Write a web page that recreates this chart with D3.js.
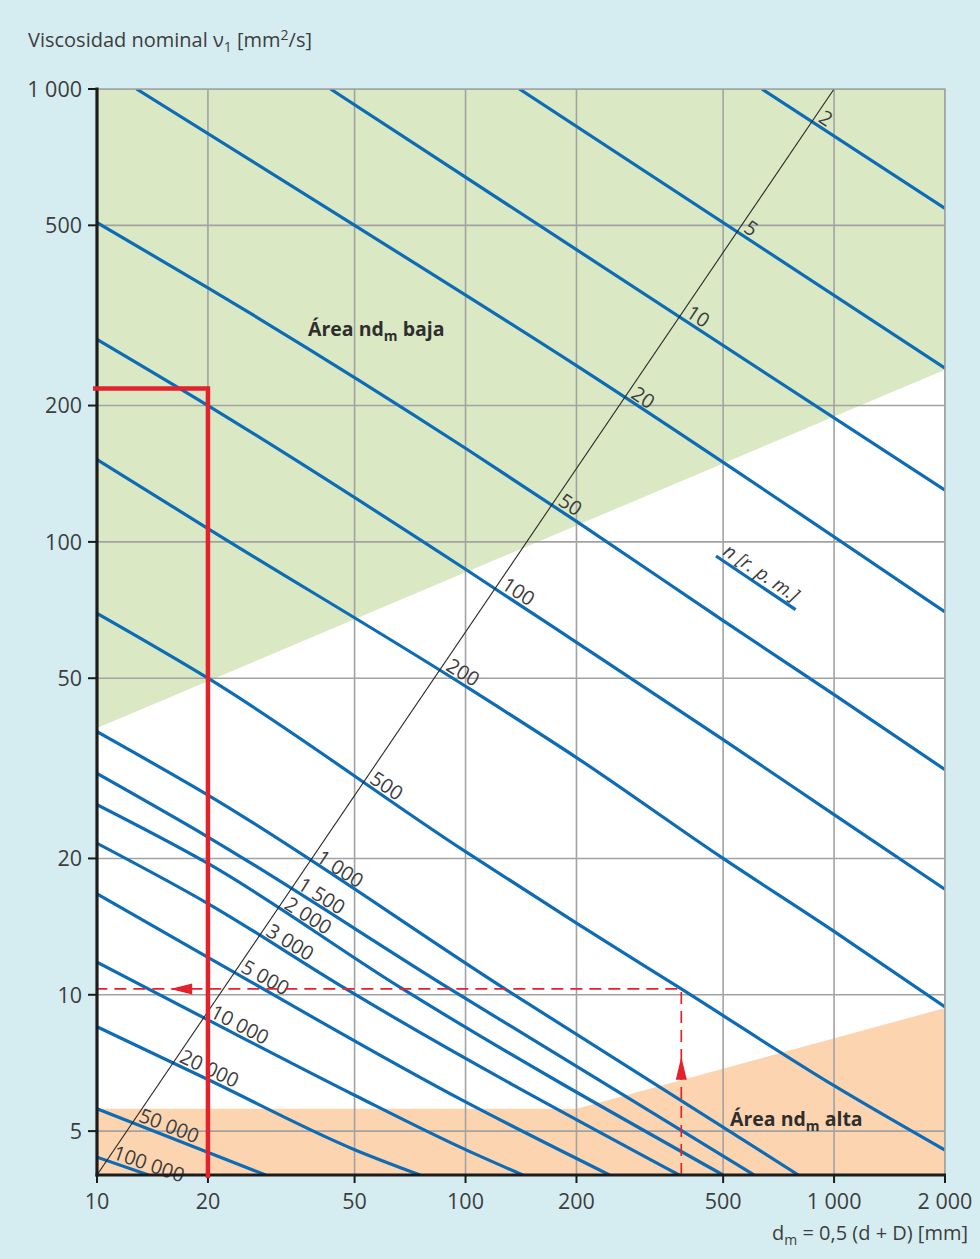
<!DOCTYPE html>
<html>
<head>
<meta charset="utf-8">
<script src="https://cdn.jsdelivr.net/npm/d3@7"></script>
<style>
  html, body { margin: 0; padding: 0; background: #d5edf1; }
  svg { display: block; }
  text { font-family: "Open Sans", "Noto Sans", sans-serif; }
</style>
</head>
<body>
<svg id="chart" width="980" height="1259"></svg>
<script>
// Axis ticks
const xTicks = [10, 20, 50, 100, 200, 500, 1000, 2000];
const yTicks = [5, 10, 20, 50, 100, 200, 500, 1000];

// Rotational speeds n [r.p.m.] of the curves, labelled along the diagonal
const speeds = [2, 5, 10, 20, 50, 100, 200, 500, 1000, 1500, 2000, 3000, 5000, 10000, 20000, 50000, 100000];

// Each curve as [dm (mm), nominal viscosity (mm²/s)] pairs, in the same order as speeds
const speedCurves = [
  [[637, 1000], [2000, 545]],
  [[140, 1000], [2000, 242]],
  [[43, 1000], [2000, 130]],
  [[12.8, 1000], [50, 500], [200, 245], [2000, 70]],
  [[10, 507], [20, 364], [100, 161], [200, 111], [500, 67], [1000, 46], [2000, 31.4]],
  [[10, 280], [20, 200], [100, 87], [200, 60], [500, 36.6], [1000, 25], [2000, 17.1]],
  [[10, 152], [20, 107], [100, 48], [200, 33.4], [500, 20], [1000, 13.8], [2000, 9.4]],
  [[10, 69.5], [20, 50], [100, 20.7], [200, 14.4], [385, 10.3], [1000, 6.3], [2000, 4.54]],
  [[10, 38.1], [20, 27.6], [127, 10.34], [800, 4]],
  [[10, 30.8], [20, 22.3], [90, 10.34], [607, 4]],
  [[10, 26.3], [20, 19.5], [67, 10.34], [500, 4]],
  [[10, 21.6], [20, 15.9], [47, 10.34], [380, 4]],
  [[10, 16.7], [20, 12.1], [100, 5.8], [246, 4]],
  [[10, 11.8], [20, 8.8], [50, 6.0], [100, 4.55], [143, 4]],
  [[10, 8.5], [20, 6.5], [50, 4.55], [75.3, 4]],
  [[10, 5.6], [28.7, 4]],
  [[10, 4.38], [13.8, 4]]
];

// Zone boundaries
const lowZoneEdge = [[10, 38.8], [2000, 240]];            // above: low nd_m
const highZoneEdge = [[10, 5.6], [200, 5.6], [2000, 9.35]]; // below: high nd_m
const speedScale = [[10, 4], [1000, 1000]];                // diagonal carrying the speed labels

// Worked examples
const exampleSolid = { dm: 20, nu: 218 };
const exampleDashed = { dm: 385, nu: 10.3 };
const arrowLeftAt = { dm: 15.8, nu: 10.3 };
const arrowUpAt = { dm: 385, nu: 7.3 };

const fmt = d3.formatLocale({ decimal: ",", thousands: " ", grouping: [3], currency: ["", " €"] }).format(",");

const svg = d3.select("#chart");
const x = d3.scaleLog().domain([10, 2000]).range([97, 945]);
const y = d3.scaleLog().domain([4, 1000]).range([1175, 89]);

const X0 = x(10), X1 = x(2000), Y0 = y(4), Y1 = y(1000);

const colors = {
  blue: "#0d6cb5", green: "#dae9c3", orange: "#fcd5b0", grid: "#a2a2a2",
  axis: "#1c1c1c", text: "#3d3d3d", red: "#e3222b"
};

svg.append("defs").append("clipPath").attr("id", "plotClip")
  .append("rect").attr("x", X0).attr("y", Y1).attr("width", X1 - X0).attr("height", Y0 - Y1);

const plot = svg.append("g").attr("clip-path", "url(#plotClip)");

// plot background
plot.append("rect").attr("x", X0).attr("y", Y1).attr("width", X1 - X0).attr("height", Y0 - Y1).attr("fill", "#ffffff");

const poly = pts => pts.map(p => [x(p[0]), y(p[1])].join(",")).join(" ");

// low nd_m zone (top)
plot.append("polygon")
  .attr("points", poly([[10, 1000], [2000, 1000], lowZoneEdge[1], lowZoneEdge[0]]))
  .attr("fill", colors.green);

// high nd_m zone (bottom)
plot.append("polygon")
  .attr("points", poly([...highZoneEdge, [2000, 4], [10, 4]]))
  .attr("fill", colors.orange);

// grid
plot.selectAll("line.vgrid").data(xTicks.slice(1)).enter().append("line")
  .attr("x1", d => x(d)).attr("x2", d => x(d)).attr("y1", Y1).attr("y2", Y0)
  .attr("stroke", colors.grid).attr("stroke-width", 1.6);
plot.selectAll("line.hgrid").data(yTicks).enter().append("line")
  .attr("x1", X0).attr("x2", X1).attr("y1", d => y(d)).attr("y2", d => y(d))
  .attr("stroke", colors.grid).attr("stroke-width", 1.6);
// frame on the top and right
svg.append("path")
  .attr("d", `M${X0},${Y1}H${X1}V${Y0}`)
  .attr("fill", "none").attr("stroke", colors.grid).attr("stroke-width", 1.6);

// speed curves
const curve = d3.line().x(d => x(d[0])).y(d => y(d[1])).curve(d3.curveMonotoneX);
plot.selectAll("path.speed").data(speedCurves).enter().append("path")
  .attr("d", curve).attr("fill", "none")
  .attr("stroke", colors.blue).attr("stroke-width", 3.2).attr("stroke-linecap", "butt");

// diagonal speed scale
plot.append("line")
  .attr("x1", x(speedScale[0][0])).attr("y1", y(speedScale[0][1]))
  .attr("x2", x(speedScale[1][0])).attr("y2", y(speedScale[1][1]))
  .attr("stroke", "#2a2a2a").attr("stroke-width", 1.1);

// where a curve meets the diagonal (pixel space), with the local direction of the curve
function crossing(pts) {
  const a = [x(speedScale[0][0]), y(speedScale[0][1])];
  const b = [x(speedScale[1][0]), y(speedScale[1][1])];
  const s = [b[0] - a[0], b[1] - a[1]];
  for (let i = 0; i < pts.length - 1; i++) {
    const p = [x(pts[i][0]), y(pts[i][1])];
    const q = [x(pts[i + 1][0]), y(pts[i + 1][1])];
    const r = [q[0] - p[0], q[1] - p[1]];
    const den = r[0] * s[1] - r[1] * s[0];
    if (Math.abs(den) < 1e-9) continue;
    const ap = [a[0] - p[0], a[1] - p[1]];
    const t = (ap[0] * s[1] - ap[1] * s[0]) / den;
    const u = (ap[0] * r[1] - ap[1] * r[0]) / den;
    if (t >= 0 && t <= 1 && u >= -0.02 && u <= 1) {
      return { x: p[0] + t * r[0], y: p[1] + t * r[1], angle: Math.atan2(r[1], r[0]) };
    }
  }
  return null;
}

const labelLayer = svg.append("g");
speeds.forEach((n, i) => {
  const c = crossing(speedCurves[i]);
  if (!c) return;
  const ux = Math.cos(c.angle), uy = Math.sin(c.angle);
  const nx = uy, ny = -ux; // normal pointing up-right
  const ox = c.x + ux * 4 + nx * 3.5;
  const oy = c.y + uy * 4 + ny * 3.5;
  labelLayer.append("text")
    .attr("transform", `translate(${ox},${oy}) rotate(${c.angle * 180 / Math.PI})`)
    .attr("font-size", 20).attr("fill", colors.text)
    .text(fmt(n));
});

// legend for the curves
const legend = svg.append("g").attr("transform", "translate(716,556) rotate(34)");
legend.append("line").attr("x1", 0).attr("y1", 0).attr("x2", 96).attr("y2", 0)
  .attr("stroke", colors.blue).attr("stroke-width", 3.2);
legend.append("text").attr("x", 4).attr("y", -5)
  .attr("font-size", 19).attr("font-style", "italic").attr("fill", colors.text)
  .text("n [r. p. m.]");

// worked example: dashed path with arrows
const dashed = svg.append("g");
dashed.append("path")
  .attr("d", `M${x(exampleDashed.dm)},${Y0}V${y(exampleDashed.nu)}H${X0}`)
  .attr("fill", "none").attr("stroke", colors.red).attr("stroke-width", 1.7)
  .attr("stroke-dasharray", "12,7");
{
  const tx = x(arrowLeftAt.dm), ty = y(arrowLeftAt.nu);
  dashed.append("path").attr("d", `M${tx},${ty}L${tx + 22},${ty - 5.5}L${tx + 22},${ty + 5.5}Z`).attr("fill", colors.red);
  const ux = x(arrowUpAt.dm), uy = y(arrowUpAt.nu);
  dashed.append("path").attr("d", `M${ux},${uy}L${ux - 5.5},${uy + 23}L${ux + 5.5},${uy + 23}Z`).attr("fill", colors.red);
}

// axes
svg.append("line").attr("x1", X0).attr("x2", X0).attr("y1", Y1 - 1.5).attr("y2", Y0 + 1.5)
  .attr("stroke", colors.axis).attr("stroke-width", 3.2);
svg.append("line").attr("x1", X0 - 1.5).attr("x2", X1 + 1).attr("y1", Y0).attr("y2", Y0)
  .attr("stroke", colors.axis).attr("stroke-width", 3.2);

svg.selectAll("line.ytick").data(yTicks).enter().append("line")
  .attr("x1", X0 - 9).attr("x2", X0).attr("y1", d => y(d)).attr("y2", d => y(d))
  .attr("stroke", colors.axis).attr("stroke-width", 2);
svg.selectAll("text.ylab").data(yTicks).enter().append("text")
  .attr("x", X0 - 15).attr("y", d => y(d)).attr("dy", "0.36em")
  .attr("text-anchor", "end").attr("font-size", 21.5).attr("fill", colors.text)
  .text(d => fmt(d));

svg.selectAll("line.xtick").data(xTicks).enter().append("line")
  .attr("x1", d => x(d)).attr("x2", d => x(d)).attr("y1", Y0).attr("y2", Y0 + 8)
  .attr("stroke", colors.axis).attr("stroke-width", 2);
svg.selectAll("text.xlab").data(xTicks).enter().append("text")
  .attr("x", d => x(d)).attr("y", Y0 + 34)
  .attr("text-anchor", "middle").attr("font-size", 21.5).attr("fill", colors.text)
  .text(d => fmt(d));

// solid example line (drawn over the axis)
svg.append("path")
  .attr("d", `M${x(exampleSolid.dm)},${Y0 + 3}V${y(exampleSolid.nu)}H${X0 - 4}`)
  .attr("fill", "none").attr("stroke", colors.red).attr("stroke-width", 4.5)
  .attr("stroke-linejoin", "miter");

// titles
const yTitle = svg.append("text").attr("x", 28).attr("y", 47).attr("font-size", 20).attr("fill", colors.text);
yTitle.append("tspan").text("Viscosidad nominal ν");
yTitle.append("tspan").attr("dy", 5).attr("font-size", 14).text("1");
yTitle.append("tspan").attr("dy", -5).text(" [mm");
yTitle.append("tspan").attr("dy", -7).attr("font-size", 14).text("2");
yTitle.append("tspan").attr("dy", 7).text("/s]");

const xTitle = svg.append("text").attr("x", 968).attr("y", 1240).attr("text-anchor", "end")
  .attr("font-size", 20).attr("fill", colors.text);
xTitle.append("tspan").text("d");
xTitle.append("tspan").attr("dy", 5).attr("font-size", 14).text("m");
xTitle.append("tspan").attr("dy", -5).text(" = 0,5 (d + D) [mm]");

function zoneLabel(px, py, tail) {
  const t = svg.append("text").attr("x", px).attr("y", py)
    .attr("font-size", 19.5).attr("font-weight", "bold").attr("fill", "#2e2e2e");
  t.append("tspan").text("Área nd");
  t.append("tspan").attr("dy", 5).attr("font-size", 14).text("m");
  t.append("tspan").attr("dy", -5).text(" " + tail);
}
zoneLabel(308, 336, "baja");
zoneLabel(730, 1126, "alta");
</script>
</body>
</html>
